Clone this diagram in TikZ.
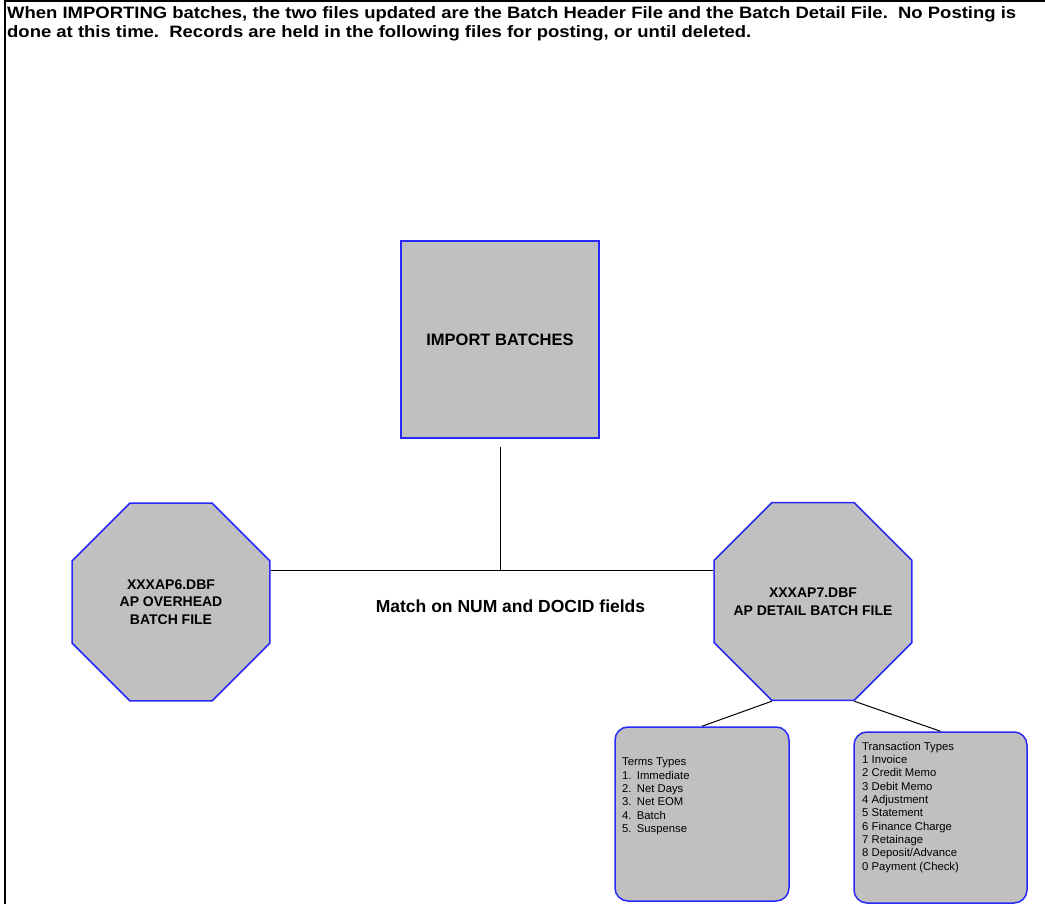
\documentclass[tikz,border=0pt]{standalone}
\usepackage{fontspec}
\setmainfont{Liberation Sans}
\usetikzlibrary{shapes.geometric}
\definecolor{boxfill}{RGB}{192,192,192}
\definecolor{boxline}{RGB}{40,40,250}
\newlength\hdrlen
\newcommand\hdrfont{\fontsize{16.5pt}{19pt}\selectfont\bfseries}
\newcommand\numitem[2]{\makebox[14.7pt][l]{#1}#2}
\newcommand\hdrlineone{When IMPORTING batches, the two files updated are the Batch Header File and the Batch Detail File.\ \ No Posting is}
\newcommand\hdrlinetwo{done at this time.\ \ Records are held in the following files for posting, or until deleted.}
\tikzset{
  framerule/.style={line width=2pt, black},
  shaded/.style={draw=boxline, fill=boxfill, line width=1.5pt},
  procbox/.style={shaded, rectangle, minimum width=198pt, minimum height=197pt,
    inner sep=0pt, font=\fontsize{16.5pt}{19pt}\selectfont\bfseries},
  filebox/.style={shaded, regular polygon, regular polygon sides=8,
    minimum size=214.3pt, inner sep=0pt},
  filetxt/.style={inner sep=0pt, align=center,
    font=\fontsize{14pt}{17.6pt}\selectfont\bfseries},
  listbox/.style={shaded, rectangle, rounded corners=13pt, inner sep=0pt},
  listtxt/.style={anchor=north west, inner sep=0pt, align=left,
    font=\fontsize{11.3pt}{13.3pt}\selectfont},
  conn/.style={line width=1pt, black},
  hdrtxt/.style={anchor=base west, inner sep=0pt},
  note/.style={inner sep=0pt, font=\fontsize{17.5pt}{20pt}\selectfont\bfseries}
}
\begin{document}
% header paragraph is condensed so that its first line spans the page
\settowidth\hdrlen{\hdrfont\hdrlineone}%
\pgfmathsetmacro\hdrscale{1009pt/\hdrlen}%
\begin{tikzpicture}[x=1pt, y=-1pt]
\useasboundingbox (0,0) rectangle (1045,904);
\fill[white] (0,0) rectangle (1045,904);

% page frame: left and top rules only
\draw[framerule] (5,904) -- (5,1) -- (1045,1);

\node[hdrtxt] (hdr1) at (7,19) {\scalebox{\hdrscale}[1]{\hdrfont\hdrlineone}};
\node[hdrtxt] (hdr2) at (7,38) {\scalebox{\hdrscale}[1]{\hdrfont\hdrlinetwo}};

% process and files
\node[procbox] (imp) at (500,339.5) {IMPORT BATCHES};
\node[filebox] (ap6) at (171,602) {};
\node[filetxt] (ap6txt) at (ap6) {XXXAP6.DBF\\AP OVERHEAD\\BATCH FILE};
\node[filebox] (ap7) at (813,601.5) {};
\node[filetxt] (ap7txt) at (ap7) {XXXAP7.DBF\\AP DETAIL BATCH FILE};
\coordinate (junc) at (500,570);

\draw[conn, shorten <=8pt] (imp) -- (junc);
\draw[conn] (ap6.east |- junc) -- (ap7.west |- junc);
\node[note] (match) at (510.5,606) {Match on NUM and DOCID fields};

% code lists
\node[listbox, minimum width=174pt, minimum height=174pt] (terms) at (702,814) {};
\node[listbox, minimum width=173pt, minimum height=171pt] (trans) at (940.5,817.5) {};
\draw[conn] (ap7.corner 5) -- (terms.north);
\draw[conn] (ap7.corner 6) -- (trans.north);

\node[listtxt] (termstxt) at (622,758) {Terms Types\\
  \numitem{1.}{Immediate}\\
  \numitem{2.}{Net Days}\\
  \numitem{3.}{Net EOM}\\
  \numitem{4.}{Batch}\\
  \numitem{5.}{Suspense}};
\node[listtxt] (transtxt) at (862,742) {Transaction Types\\
  1 Invoice\\
  2 Credit Memo\\
  3 Debit Memo\\
  4 Adjustment\\
  5 Statement\\
  6 Finance Charge\\
  7 Retainage\\
  8 Deposit/Advance\\
  0 Payment (Check)};
\end{tikzpicture}
\end{document}
